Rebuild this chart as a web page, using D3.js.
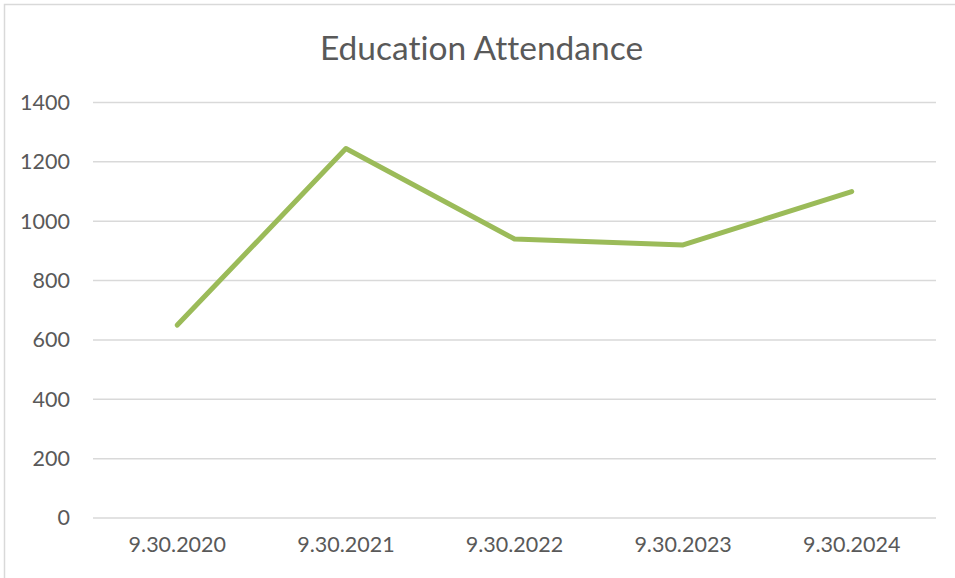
<!DOCTYPE html>
<html>
<head>
<meta charset="utf-8">
<script src="https://cdn.jsdelivr.net/npm/d3@7"></script>
<style>
  html, body { margin: 0; padding: 0; background: #fff; }
  svg { display: block; }
  text { font-variant-ligatures: none; font-feature-settings: "liga" 0; }
</style>
</head>
<body>
<svg id="chart" width="955" height="578"></svg>
<script>
// Attendance figures, one per reporting date
const categories = ["9.30.2020", "9.30.2021", "9.30.2022", "9.30.2023", "9.30.2024"];
const attendance = [650, 1245, 940, 920, 1100];
const yTicks = [0, 200, 400, 600, 800, 1000, 1200, 1400];
const title = "Education Attendance";

const svg = d3.select("#chart");
const W = 955, H = 578;
const margin = { top: 102.5, right: 19, bottom: 60, left: 93 };
const font = "Lato, 'Open Sans', sans-serif";
const textColor = "#595959";

// chart area frame
svg.append("rect")
  .attr("x", 4.5).attr("y", 4.5)
  .attr("width", W + 10).attr("height", H + 10)
  .attr("fill", "#fff")
  .attr("stroke", "#d9d9d9").attr("stroke-width", 1.5);

const x = d3.scaleBand()
  .domain(categories)
  .range([margin.left, W - margin.right])
  .paddingInner(0).paddingOuter(0);

const y = d3.scaleLinear()
  .domain([0, 1400])
  .range([518, margin.top]);

// horizontal gridlines
svg.append("g")
  .selectAll("line")
  .data(yTicks)
  .join("line")
  .attr("x1", margin.left).attr("x2", W - margin.right)
  .attr("y1", d => y(d)).attr("y2", d => y(d))
  .attr("stroke", "#d9d9d9").attr("stroke-width", 1.5);

// y axis labels
const yAxis = d3.axisLeft(y).tickValues(yTicks).tickFormat(d3.format("d"))
  .tickSize(0).tickPadding(0);
svg.append("g")
  .attr("transform", `translate(${70},0)`)
  .call(yAxis)
  .call(g => g.select(".domain").remove())
  .call(g => g.selectAll("text")
    .attr("fill", textColor)
    .style("font-family", font)
    .style("font-size", "21.5px"));

// x axis labels
const xAxis = d3.axisBottom(x).tickSize(0).tickPadding(0);
svg.append("g")
  .attr("transform", `translate(0,${537})`)
  .call(xAxis)
  .call(g => g.select(".domain").remove())
  .call(g => g.selectAll("text")
    .attr("fill", textColor)
    .style("font-family", font)
    .style("font-size", "21.5px"));

// attendance line
const line = d3.line()
  .x((d, i) => x(categories[i]) + x.bandwidth() / 2)
  .y(d => y(d));

svg.append("path")
  .datum(attendance)
  .attr("d", line)
  .attr("fill", "none")
  .attr("stroke", "#9bbb59")
  .attr("stroke-width", 5)
  .attr("stroke-linecap", "round")
  .attr("stroke-linejoin", "round");

// title
svg.append("text")
  .attr("x", W / 2 + 4)
  .attr("y", 60)
  .attr("text-anchor", "middle")
  .attr("fill", textColor)
  .style("font-family", font)
  .style("font-size", "33.5px")
  .text(title);
</script>
</body>
</html>
